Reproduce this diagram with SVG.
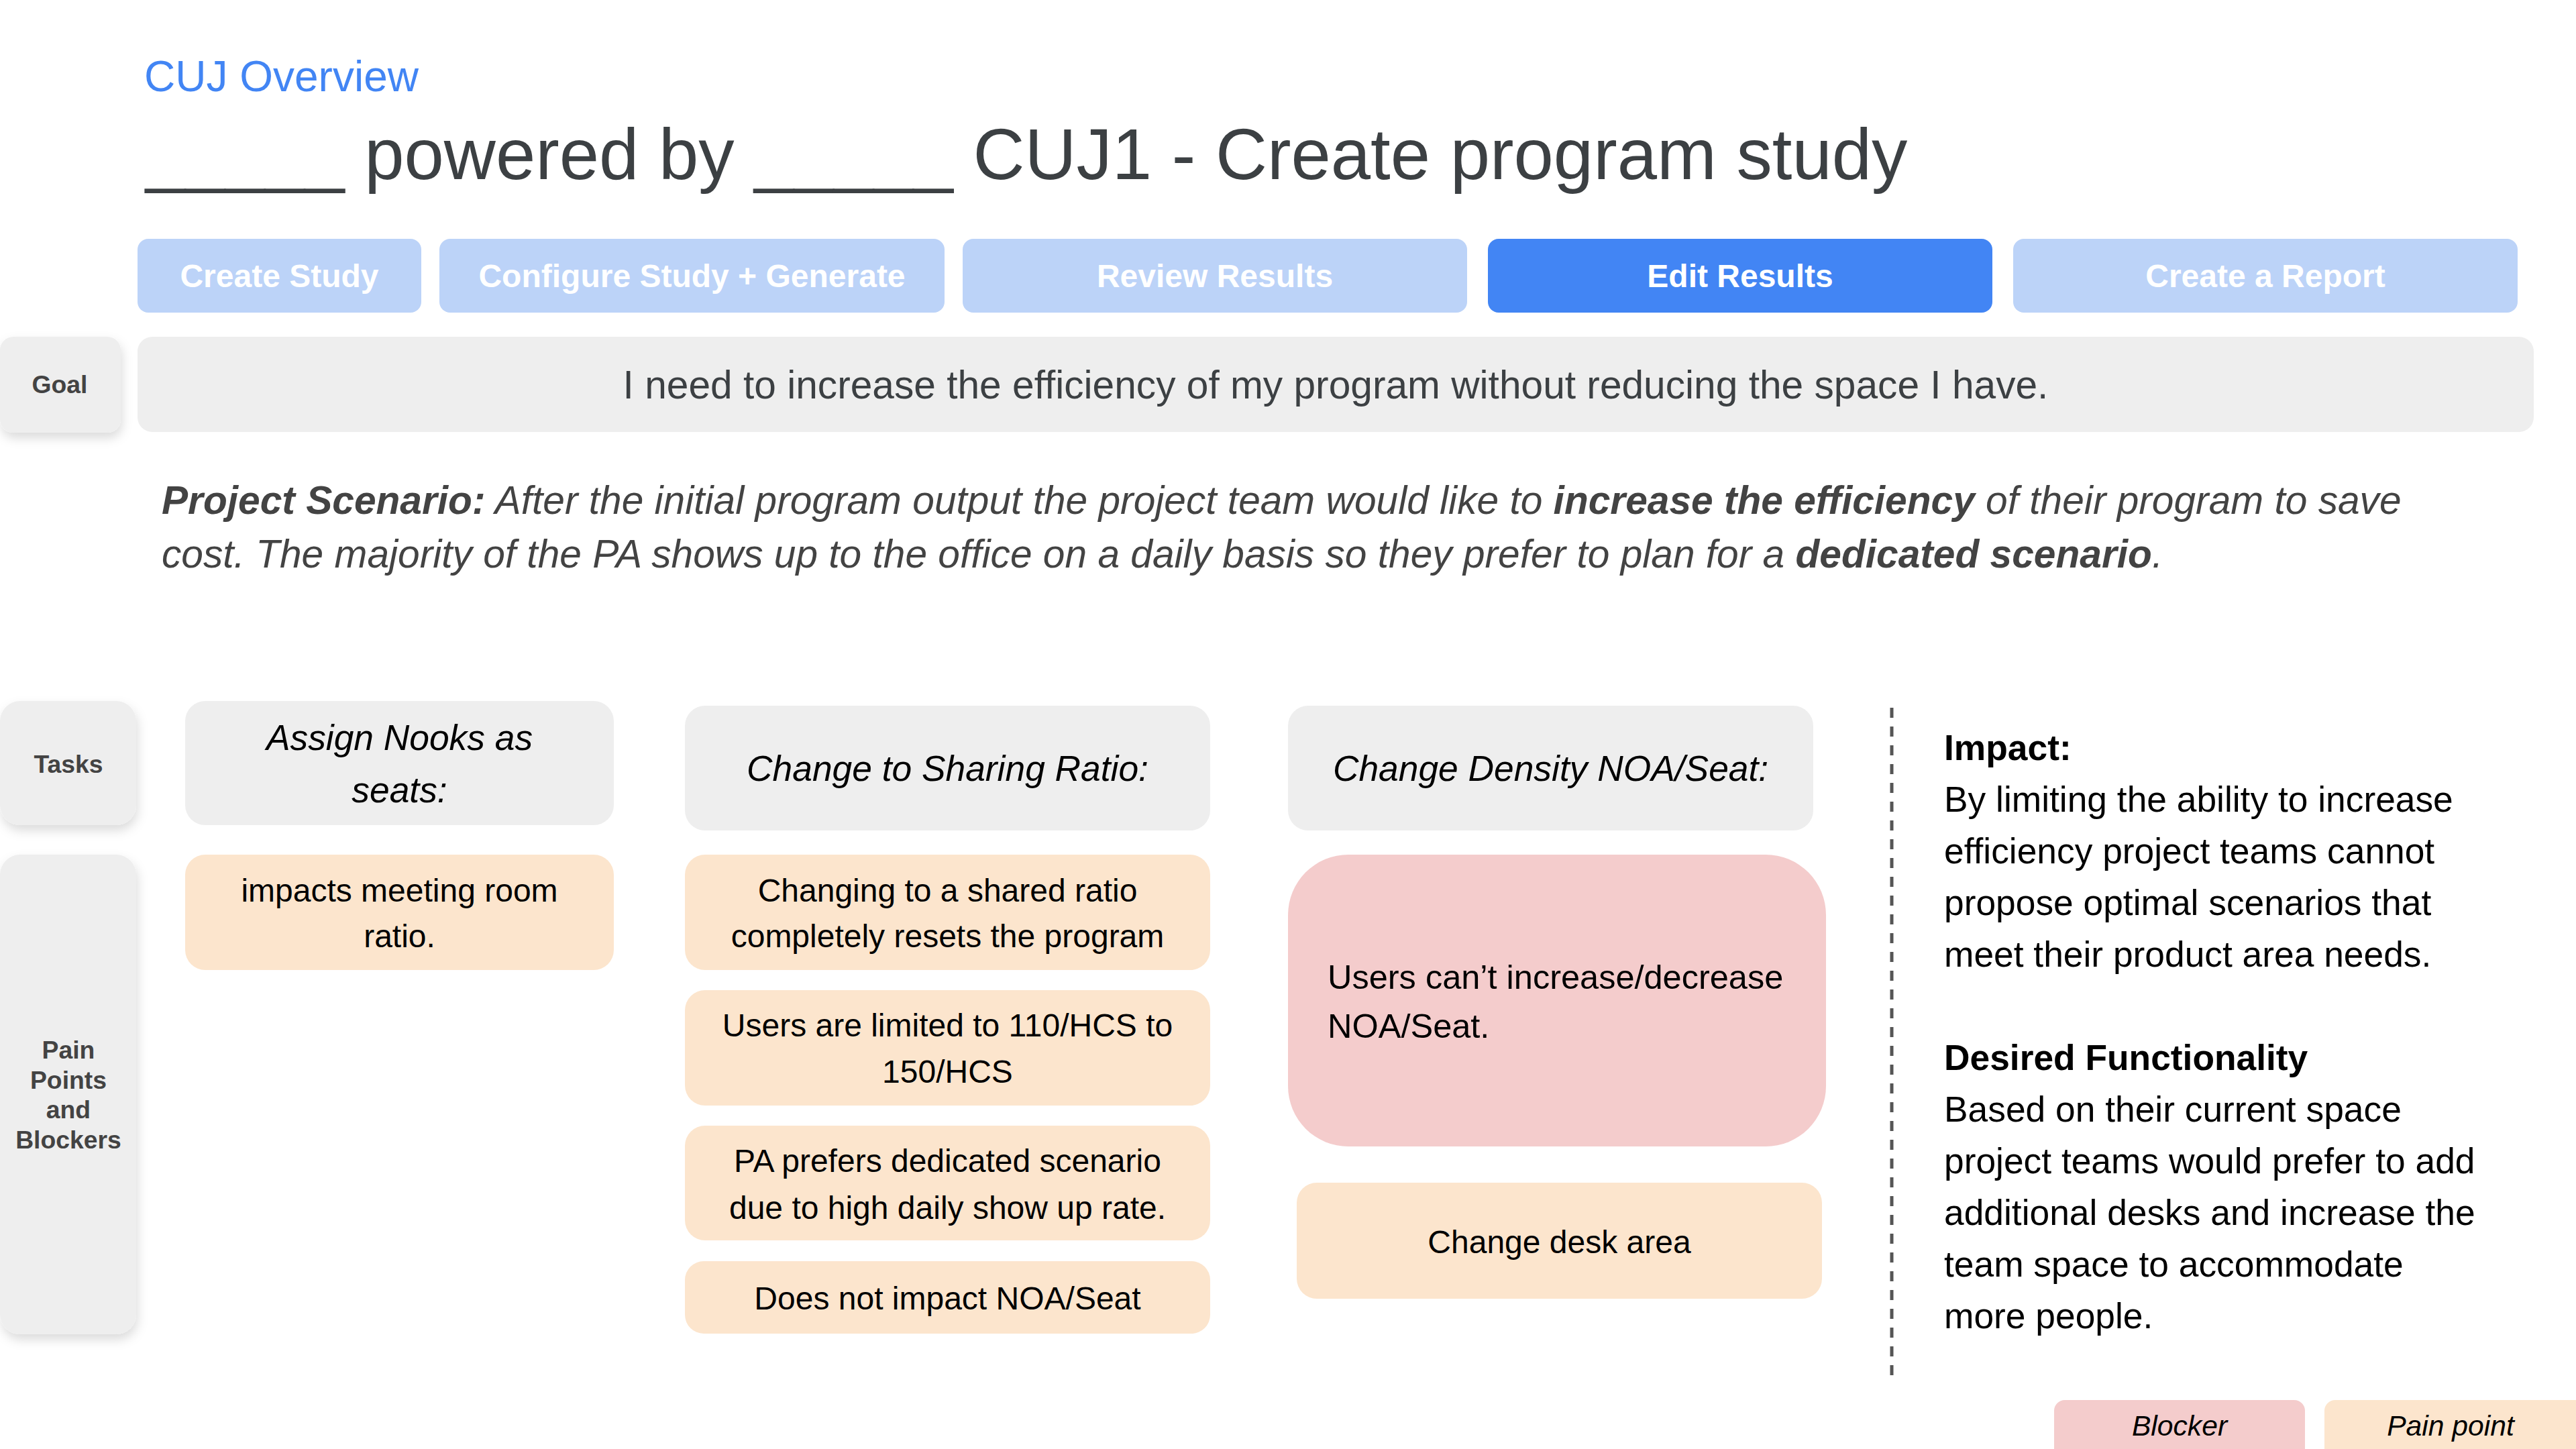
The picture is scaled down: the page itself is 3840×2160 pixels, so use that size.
<svg xmlns="http://www.w3.org/2000/svg" width="3840" height="2160" viewBox="0 0 3840 2160">
<defs>
<filter id="sh" x="-20%" y="-20%" width="140%" height="150%">
<feDropShadow dx="2" dy="8" stdDeviation="8" flood-color="#000" flood-opacity="0.14"/>
</filter>
<style>
text{font-family:"Liberation Sans",Arial,sans-serif;}
.tab{fill:#bcd3f8;}
.tabOn{fill:#4285f4;}
.tabT{font-size:48px;font-weight:bold;fill:#fff;text-anchor:middle;}
.lab{fill:#eeeeee;filter:url(#sh);}
.labT{font-size:37.33px;font-weight:bold;fill:#434343;text-anchor:middle;}
.gray{fill:#eeeeee;}
.pain{fill:#fce5cd;}
.block{fill:#f4cccc;}
.task{font-size:53.33px;font-style:italic;fill:#000;text-anchor:middle;}
.body{font-size:48px;fill:#000;text-anchor:middle;}
.side{font-size:53.33px;fill:#000;}
</style>
</defs>
<rect width="3840" height="2160" fill="#fff"/>

<g id="header">
<text x="215" y="136" font-size="64" fill="#4285f4">CUJ Overview</text>
<text x="217" y="267" font-size="106.67" fill="#3c4043">_____ powered by _____ CUJ1 - Create program study</text>
</g>

<g id="tabs">
<g id="tab-create-study"><rect class="tab" x="205" y="356" width="423" height="110" rx="16"/><text class="tabT" x="416.5" y="428">Create Study</text></g>
<g id="tab-configure"><rect class="tab" x="655" y="356" width="753" height="110" rx="16"/><text class="tabT" x="1031.5" y="428">Configure Study + Generate</text></g>
<g id="tab-review"><rect class="tab" x="1435" y="356" width="752" height="110" rx="16"/><text class="tabT" x="1811" y="428">Review Results</text></g>
<g id="tab-edit"><rect class="tabOn" x="2218" y="356" width="752" height="110" rx="16"/><text class="tabT" x="2594" y="428">Edit Results</text></g>
<g id="tab-report"><rect class="tab" x="3001" y="356" width="752" height="110" rx="16"/><text class="tabT" x="3377" y="428">Create a Report</text></g>
</g>

<g id="goal-label"><rect class="lab" x="0" y="502" width="180" height="143" rx="20"/><text class="labT" x="89" y="586">Goal</text></g>
<g id="goal"><rect class="gray" x="205" y="502" width="3572" height="142" rx="22"/><text x="1991" y="594" font-size="58.67" fill="#3c4043" text-anchor="middle">I need to increase the efficiency of my program without reducing the space I have.</text></g>

<g id="scenario" font-size="58.67" fill="#434343" font-style="italic">
<text x="241" y="766"><tspan font-weight="bold">Project Scenario:</tspan> After the initial program output the project team would like to <tspan font-weight="bold">increase the efficiency</tspan> of their program to save</text>
<text x="241" y="846">cost. The majority of the PA shows up to the office on a daily basis so they prefer to plan for a <tspan font-weight="bold">dedicated scenario</tspan>.</text>
</g>

<g id="tasks-label"><rect class="lab" x="0" y="1045" width="203" height="185" rx="30"/><text class="labT" x="102" y="1152">Tasks</text></g>
<g id="pain-label"><rect class="lab" x="0" y="1274" width="203" height="715" rx="30"/>
<text class="labT" x="102" y="1578">Pain</text><text class="labT" x="102" y="1623">Points</text><text class="labT" x="102" y="1667">and</text><text class="labT" x="102" y="1712">Blockers</text></g>

<g id="task-nooks"><rect class="gray" x="276" y="1045" width="639" height="185" rx="30"/><text class="task" x="595.5" y="1118">Assign Nooks as</text><text class="task" x="595.5" y="1196">seats:</text></g>
<g id="pain-nooks"><rect class="pain" x="276" y="1274" width="639" height="172" rx="30"/><text class="body" x="595.5" y="1344">impacts meeting room</text><text class="body" x="595.5" y="1412">ratio.</text></g>

<g id="task-sharing"><rect class="gray" x="1021" y="1052" width="783" height="186" rx="30"/><text class="task" x="1412.5" y="1164">Change to Sharing Ratio:</text></g>
<g id="pain-sharing-1"><rect class="pain" x="1021" y="1274" width="783" height="172" rx="30"/><text class="body" x="1412.5" y="1344">Changing to a shared ratio</text><text class="body" x="1412.5" y="1412">completely resets the program</text></g>
<g id="pain-sharing-2"><rect class="pain" x="1021" y="1476" width="783" height="172" rx="30"/><text class="body" x="1412.5" y="1545">Users are limited to 110/HCS to</text><text class="body" x="1412.5" y="1614">150/HCS</text></g>
<g id="pain-sharing-3"><rect class="pain" x="1021" y="1678" width="783" height="171" rx="30"/><text class="body" x="1412.5" y="1747">PA prefers dedicated scenario</text><text class="body" x="1412.5" y="1817">due to high daily show up rate.</text></g>
<g id="pain-sharing-4"><rect class="pain" x="1021" y="1880" width="783" height="108" rx="28"/><text class="body" x="1412.5" y="1952">Does not impact NOA/Seat</text></g>

<g id="task-density"><rect class="gray" x="1920" y="1052" width="783" height="186" rx="30"/><text class="task" x="2311.5" y="1164">Change Density NOA/Seat:</text></g>
<g id="blocker-density"><rect class="block" x="1920" y="1274" width="802" height="435" rx="90"/><text x="1979" y="1474" font-size="50.5" fill="#000">Users can’t increase/decrease</text><text x="1979" y="1547" font-size="50.5" fill="#000">NOA/Seat.</text></g>
<g id="pain-density"><rect class="pain" x="1933" y="1763" width="783" height="173" rx="30"/><text class="body" x="2324.5" y="1868">Change desk area</text></g>

<g id="separator"><line x1="2820" y1="1055" x2="2820" y2="2052" stroke="#555" stroke-width="5" stroke-dasharray="15 13"/></g>

<g id="impact">
<text class="side" x="2898" y="1133" font-weight="bold">Impact:</text>
<text class="side" x="2898" y="1210">By limiting the ability to increase</text>
<text class="side" x="2898" y="1287">efficiency project teams cannot</text>
<text class="side" x="2898" y="1364">propose optimal scenarios that</text>
<text class="side" x="2898" y="1441">meet their product area needs.</text>
<text class="side" x="2898" y="1595" font-weight="bold">Desired Functionality</text>
<text class="side" x="2898" y="1672">Based on their current space</text>
<text class="side" x="2898" y="1749">project teams would prefer to add</text>
<text class="side" x="2898" y="1826">additional desks and increase the</text>
<text class="side" x="2898" y="1903">team space to accommodate</text>
<text class="side" x="2898" y="1980">more people.</text>
</g>

<g id="legend-blocker"><rect class="block" x="3062" y="2087" width="374" height="110" rx="16"/><text x="3249" y="2140" font-size="42.67" font-style="italic" fill="#000" text-anchor="middle">Blocker</text></g>
<g id="legend-pain"><rect class="pain" x="3465" y="2087" width="400" height="110" rx="16"/><text x="3653" y="2140" font-size="42.67" font-style="italic" fill="#000" text-anchor="middle">Pain point</text></g>
</svg>
